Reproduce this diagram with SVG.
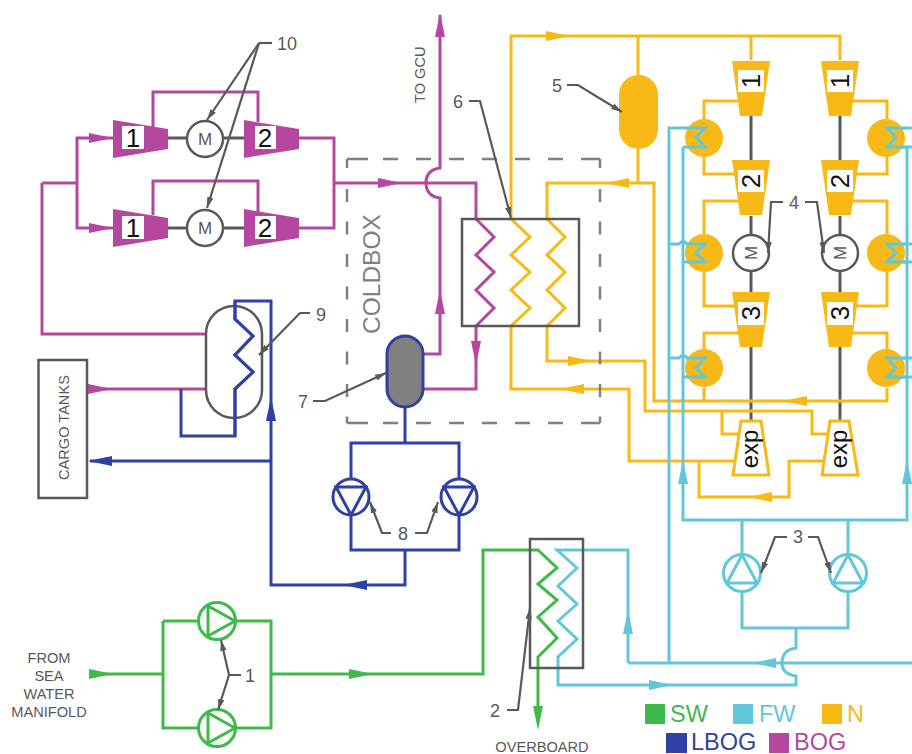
<svg xmlns="http://www.w3.org/2000/svg" xmlns:xlink="http://www.w3.org/1999/xlink" width="912" height="754" viewBox="0 0 912 754">
<style>
text{font-family:"Liberation Sans",Arial,sans-serif;fill:#595959}
.p{fill:none;stroke-width:3;stroke-linejoin:miter}
.bog{stroke:#B5479E}.lbog{stroke:#2F41A3}.sw{stroke:#3FBA4A}.fw{stroke:#62C8D9}.n{stroke:#F8B916}
.fbog{fill:#B5479E}.flbog{fill:#2F41A3}.fsw{fill:#3FBA4A}.ffw{fill:#62C8D9}.fn{fill:#F8B916}
.g{fill:none;stroke:#595959;stroke-width:3}
.ld{fill:none;stroke:#595959;stroke-width:2.200;marker-end:url(#tip)}
.num{font-size:18px}
.cap{font-size:14.6px}
.k{font-size:26px;fill:#111}
.box{fill:#fff}
.leg{font-size:23.500px}
.m{font-size:17px;text-anchor:middle}
.dh{fill:none;stroke:#808080;stroke-width:2.500;stroke-dasharray:21 15 15 18 15 18 15 18 15 18 15 18 15 18 20}
.dv{fill:none;stroke:#808080;stroke-width:2.500;stroke-dasharray:9 21 13 19.500 13 19.500 13 19.500 13 19.500 13 19.500 13 19.500 13 19.500 13}
</style>
<defs>
<marker id="tip" markerUnits="userSpaceOnUse" markerWidth="12" markerHeight="8" refX="11" refY="4" orient="auto"><polygon points="11,4 0,0.8 0,7.2" fill="#595959"/></marker>
<polygon id="ah" points="0,0 -24,-5 -24,5"/>
<g id="compH"><polygon points="0,-19 55,-10 55,10 0,19"/></g>
<g id="compV"><polygon points="-19,0 19,0 11,55 -11,55"/></g>
</defs>
<rect width="912" height="754" fill="#fff"/>

<g id="connectors">
<g id="shafts">
<path class="g" d="M168 138H244M168 228H244M751 116V160M840 116V160M751 216V292M840 216V292M751 347V421M840 347V421"/>
</g>
<g id="bog-lines">
<path class="p bog" d="M153 127V92H258V122M153 215V181H258V212"/>
<path class="p bog" d="M299 138H334V228H299M113 138H77V228H113M42 183H77M42 183V334H206"/>
<path class="p bog" d="M334 183H426M426 183Q426 170 440 168V15M426 183Q426 196 440 198V354H422M426 183H476V219L494 237L476 255L494 272L476 290L494 308L476 326V389H423"/>
<path class="p bog" d="M206 389H100"/>
<use xlink:href="#ah" class="fbog" transform="translate(113,138)"/>
<use xlink:href="#ah" class="fbog" transform="translate(113,228)"/>
<use xlink:href="#ah" class="fbog" transform="translate(402,183)"/>
<use xlink:href="#ah" class="fbog" transform="translate(440,13) rotate(-90)"/>
<use xlink:href="#ah" class="fbog" transform="translate(440,290) rotate(-90)"/>
<use xlink:href="#ah" class="fbog" transform="translate(476,365) rotate(90)"/>
<use xlink:href="#ah" class="fbog" transform="translate(112,389)"/>
</g>
<g id="lbog-lines">
<path class="p lbog" d="M181 389V436H235V389L253 372L235 355L253 336L235 319V301H271V585H405V550M271 461H90"/>
<path class="p lbog" d="M405 408V443M351 479V443H459V479M351 515V550H459V515"/>
<use xlink:href="#ah" class="flbog" transform="translate(271,397) rotate(-90)"/>
<use xlink:href="#ah" class="flbog" transform="translate(88,461) rotate(180)"/>
<use xlink:href="#ah" class="flbog" transform="translate(343,585) rotate(180)"/>
</g>
<g id="n-lines">
<path class="p n" d="M511 219V36H840V60M638 36V75M751 36V60"/>
<path class="p n" d="M638 149V183M547 219V183H654V401H887V388M704 401V388"/>
<path class="p n" d="M511 219L530 237L511 255L530 272L511 290L530 308L511 326V389H629V461H734M699 461V497H789V461H824"/>
<path class="p n" d="M547 219L565 237L547 255L565 272L547 290L565 308L547 326V361H645V411H812V434H832M722 411V434H742"/>
<path class="p n" d="M704 119V101H739M887 119V101H852M704 157V174H735M887 157V174H856M704 234V201H739M887 234V201H852M704 272V306H735M887 272V306H856M704 349V333H739M887 349V333H852"/>
<use xlink:href="#ah" class="fn" transform="translate(570,36)"/>
<use xlink:href="#ah" class="fn" transform="translate(605,183) rotate(180)"/>
<use xlink:href="#ah" class="fn" transform="translate(592,361)"/>
<use xlink:href="#ah" class="fn" transform="translate(560,389) rotate(180)"/>
<use xlink:href="#ah" class="fn" transform="translate(783,401) rotate(180)"/>
<use xlink:href="#ah" class="fn" transform="translate(748,497) rotate(180)"/>
</g>
<g id="fw-lines">
<path class="p fw" d="M669 663V128H690M669 244H679Q683 239 687 244H690M669 358H679Q683 353 687 358H690"/>
<path class="p fw" d="M683 147V520H907V147M742 520V555M848 520V555"/>
<path class="p fw" d="M912 128H890M912 147H890M912 244H890M912 262H890M912 358H890M912 377H890"/>
<path class="p fw" d="M742 592V628H848V592M796 628V648Q782 650 782 663Q782 674 796 676V685H558V657L577 639L558 621L577 604L558 586L577 568L557 550H628V663M912 663H628"/>
<use xlink:href="#ah" class="ffw" transform="translate(683,460) rotate(-90)"/>
<use xlink:href="#ah" class="ffw" transform="translate(907,460) rotate(-90)"/>
<use xlink:href="#ah" class="ffw" transform="translate(628,610) rotate(-90)"/>
<use xlink:href="#ah" class="ffw" transform="translate(752,663) rotate(180)"/>
<use xlink:href="#ah" class="ffw" transform="translate(673,685)"/>
</g>
<g id="sw-lines">
<path class="p sw" d="M100 674H163M163 621H199M163 621V728H199M235 621H271V728H235M271 674H483V550H538L557 568L538 584L557 600L538 617L557 638L538 657V710"/>
<use xlink:href="#ah" class="fsw" transform="translate(113,674)"/>
<use xlink:href="#ah" class="fsw" transform="translate(373,674)"/>
<use xlink:href="#ah" class="fsw" transform="translate(538,730) rotate(90)"/>
</g>
</g>

<g id="coldbox">
<path class="dh" d="M347 159H600"/><path class="dh" d="M347 423H600"/>
<path class="dv" d="M347 159V423"/><path class="dv" d="M600 159V423"/>
<text transform="translate(380,334) rotate(-90)" style="font-size:24.5px;fill:#808080">COLDBOX</text>
</g>

<g id="compressor-10a">
<use xlink:href="#compH" class="fbog" transform="translate(113,139)"/><rect class="box" x="122" y="126" width="22" height="23"/>
<text class="k" x="133" y="147" text-anchor="middle">1</text>
<use xlink:href="#compH" class="fbog" transform="translate(244,139)"/><rect class="box" x="255" y="126" width="21" height="23"/>
<text class="k" x="265" y="147" text-anchor="middle">2</text>
<circle cx="205" cy="139" r="18" fill="#fff" stroke="#595959" stroke-width="2.5"/><text class="m" x="205" y="145">M</text>
</g>
<g id="compressor-10b">
<use xlink:href="#compH" class="fbog" transform="translate(113,228)"/><rect class="box" x="122" y="216" width="22" height="23"/>
<text class="k" x="133" y="237" text-anchor="middle">1</text>
<use xlink:href="#compH" class="fbog" transform="translate(244,228)"/><rect class="box" x="255" y="216" width="21" height="23"/>
<text class="k" x="265" y="237" text-anchor="middle">2</text>
<circle cx="205" cy="228" r="18" fill="#fff" stroke="#595959" stroke-width="2.5"/><text class="m" x="205" y="234">M</text>
</g>

<g id="cargo-tanks">
<rect x="38.500" y="360" width="48.500" height="138" fill="#fff" stroke="#595959" stroke-width="2.500"/>
<text class="cap" transform="translate(69,480) rotate(-90)">CARGO TANKS</text>
</g>
<g id="separator-9">
<rect x="206" y="306" width="56" height="112" rx="28" fill="none" stroke="#595959" stroke-width="2.500"/>
<path class="p lbog" d="M235 301V319L253 336L235 355L253 372L235 389V436"/>
</g>
<g id="drum-7">
<rect x="387" y="336" width="36" height="71" rx="18" fill="#808080" stroke="#2F41A3" stroke-width="3"/>
</g>
<g id="pump-8a">
<circle cx="351" cy="497" r="18" fill="#fff" stroke="#2F41A3" stroke-width="3"/>
<path class="p lbog" d="M336 487H366L351 515Z"/>
</g>
<g id="pump-8b">
<circle cx="459" cy="497" r="18" fill="#fff" stroke="#2F41A3" stroke-width="3"/>
<path class="p lbog" d="M444 487H474L459 515Z"/>
</g>
<g id="exchanger-6">
<rect x="462" y="219" width="117" height="107" fill="none" stroke="#595959" stroke-width="2.500"/>
</g>
<g id="drum-5">
<rect x="619" y="75" width="39" height="74" rx="19.500" class="fn"/>
</g>

<g id="train-left">
<use xlink:href="#compV" class="fn" transform="translate(751,61)"/><rect class="box" x="738" y="70" width="26" height="22"/>
<text class="k" transform="translate(760,81) rotate(-90)" text-anchor="middle">1</text>
<use xlink:href="#compV" class="fn" transform="translate(751,160)"/><rect class="box" x="738" y="170" width="26" height="22"/>
<text class="k" transform="translate(760,181) rotate(-90)" text-anchor="middle">2</text>
<circle cx="751" cy="253" r="18" fill="#fff" stroke="#595959" stroke-width="2.500"/><text class="m" transform="translate(757,253) rotate(-90)">M</text>
<use xlink:href="#compV" class="fn" transform="translate(751,292)"/><rect class="box" x="738" y="302" width="26" height="23"/>
<text class="k" transform="translate(760,313) rotate(-90)" text-anchor="middle">3</text>
</g>
<g id="train-right">
<use xlink:href="#compV" class="fn" transform="translate(840,61)"/><rect class="box" x="827" y="70" width="26" height="22"/>
<text class="k" transform="translate(849,81) rotate(-90)" text-anchor="middle">1</text>
<use xlink:href="#compV" class="fn" transform="translate(840,160)"/><rect class="box" x="827" y="170" width="26" height="22"/>
<text class="k" transform="translate(849,181) rotate(-90)" text-anchor="middle">2</text>
<circle cx="840" cy="253" r="18" fill="#fff" stroke="#595959" stroke-width="2.500"/><text class="m" transform="translate(846,253) rotate(-90)">M</text>
<use xlink:href="#compV" class="fn" transform="translate(840,292)"/><rect class="box" x="827" y="302" width="26" height="23"/>
<text class="k" transform="translate(849,313) rotate(-90)" text-anchor="middle">3</text>
</g>
<g id="exp-left">
<polygon points="741,421 761,421 769,475 733,475" fill="#fff" stroke="#F8B916" stroke-width="3"/>
<text class="k" transform="translate(758,449) rotate(-90)" text-anchor="middle" style="font-size:24px">exp</text>
</g>
<g id="exp-right">
<polygon points="830,421 849,421 858,475 822,475" fill="#fff" stroke="#F8B916" stroke-width="3"/>
<text class="k" transform="translate(847,449) rotate(-90)" text-anchor="middle" style="font-size:24px">exp</text>
</g>

<g id="cooler-l1"><circle cx="704" cy="138" r="19" class="fn"/><path class="p fw" d="M686 128H705L696 137L705 147H683"/></g>
<g id="cooler-l2"><circle cx="704" cy="253" r="19" class="fn"/><path class="p fw" d="M686 244H705L696 253L705 262H683"/></g>
<g id="cooler-l3"><circle cx="704" cy="368" r="19" class="fn"/><path class="p fw" d="M686 358H705L696 368L705 377H683"/></g>
<g id="cooler-r1"><circle cx="886" cy="138" r="19" class="fn"/><path class="p fw" d="M905 128H887L896 137L887 147H907"/></g>
<g id="cooler-r2"><circle cx="886" cy="253" r="19" class="fn"/><path class="p fw" d="M905 244H887L896 253L887 262H907"/></g>
<g id="cooler-r3"><circle cx="886" cy="368" r="19" class="fn"/><path class="p fw" d="M905 358H887L896 368L887 377H907"/></g>

<g id="pump-3a">
<circle cx="742" cy="573" r="18.500" fill="#fff" stroke="#62C8D9" stroke-width="3"/>
<path class="p fw" d="M742 555L727 583H757Z"/>
</g>
<g id="pump-3b">
<circle cx="848" cy="573" r="18.500" fill="#fff" stroke="#62C8D9" stroke-width="3"/>
<path class="p fw" d="M848 555L833 583H863Z"/>
</g>
<g id="pump-1a">
<circle cx="217" cy="621" r="18.500" fill="#fff" stroke="#3FBA4A" stroke-width="3"/>
<path class="p sw" d="M208 606V636L235 621Z"/>
</g>
<g id="pump-1b">
<circle cx="217" cy="728" r="18.500" fill="#fff" stroke="#3FBA4A" stroke-width="3"/>
<path class="p sw" d="M208 713V743L235 728Z"/>
</g>
<g id="exchanger-2">
<rect x="530" y="539" width="53" height="129" fill="none" stroke="#595959" stroke-width="2.500"/>
</g>

<g id="leaders">
<path d="M272 43H259" class="g" style="stroke-width:2.200"/>
<path class="ld" d="M259 43L207 120"/>
<path class="ld" d="M259 43L207 208"/>
<path class="ld" d="M310 313H300L259 355"/>
<path class="ld" d="M313 401H325L386 373"/>
<path class="ld" d="M391 533H382L370 502"/>
<path class="ld" d="M415 533H427L438 502"/>
<path class="ld" d="M469 101H480L511 218"/>
<path class="ld" d="M567 85H578L622 112"/>
<path class="ld" d="M783 202H771L768 253"/>
<path class="ld" d="M805 202H817L824 253"/>
<path class="ld" d="M787 537H775L761 573"/>
<path class="ld" d="M808 537H818L831 573"/>
<path class="ld" d="M241 675H229L221 640"/>
<path class="ld" d="M229 675L218 710"/>
<path class="ld" d="M507 710H518L530 608"/>
</g>
<g id="labels">
<text class="num" x="277" y="50">10</text>
<text class="num" x="316" y="321">9</text>
<text class="num" x="298" y="408">7</text>
<text class="num" x="398" y="540">8</text>
<text class="num" x="453" y="108">6</text>
<text class="num" x="552" y="92">5</text>
<text class="num" x="789" y="209">4</text>
<text class="num" x="793" y="543">3</text>
<text class="num" x="245" y="682">1</text>
<text class="num" x="490" y="717">2</text>
<text class="cap" transform="translate(425,103) rotate(-90)">TO GCU</text>
<g class="cap" text-anchor="middle">
<text x="49" y="663">FROM</text>
<text x="49" y="681">SEA</text>
<text x="49" y="699">WATER</text>
<text x="49" y="717">MANIFOLD</text>
</g>
<text class="cap" x="542" y="752" text-anchor="middle">OVERBOARD</text>
</g>
<g id="legend">
<rect x="645" y="704" width="20" height="20" class="fsw"/><text class="leg" x="670" y="722" style="fill:#3FBA4A">SW</text>
<rect x="733" y="704" width="20" height="20" class="ffw"/><text class="leg" x="759" y="722" style="fill:#62C8D9">FW</text>
<rect x="822" y="704" width="20" height="20" class="fn"/><text class="leg" x="847" y="722" style="fill:#F8B916">N</text>
<rect x="666" y="733" width="21" height="20" class="flbog"/><text class="leg" x="691" y="749.500" style="fill:#2F41A3">LBOG</text>
<rect x="769" y="733" width="20" height="20" class="fbog"/><text class="leg" x="794" y="749.500" style="fill:#B5479E">BOG</text>
</g>
</svg>
